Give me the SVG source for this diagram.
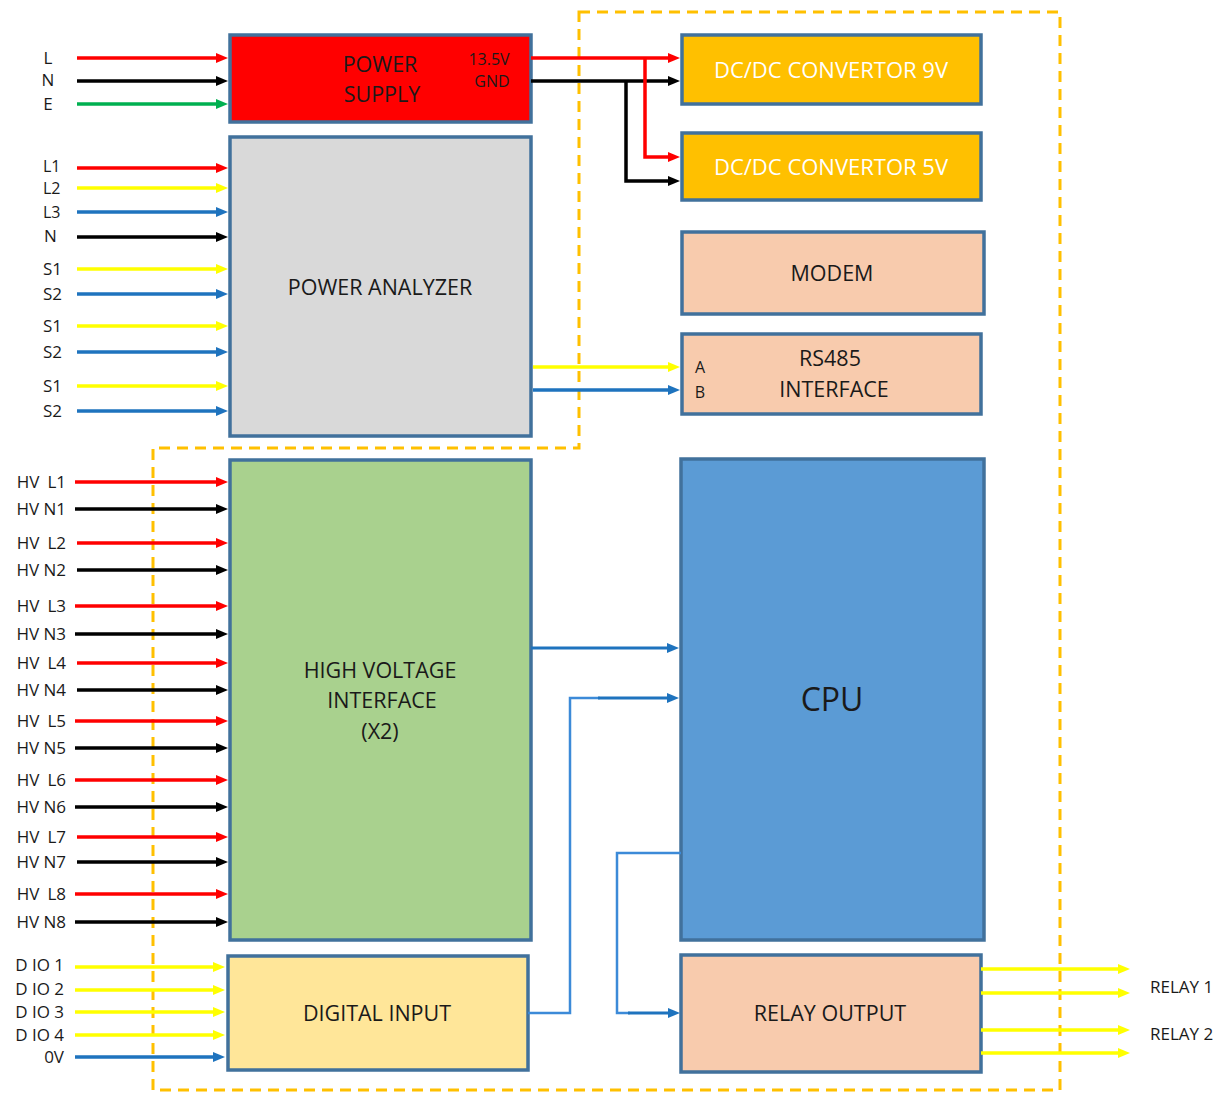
<svg xmlns="http://www.w3.org/2000/svg" width="1225" height="1094" viewBox="0 0 1225 1094">
<style>
.box{stroke:#41719C;stroke-width:3.5}
text{font-family:"Open Sans","Liberation Sans",sans-serif;fill:#1a1a1a}
.lbl{font-size:17px}
.sm{font-size:16px}
.t{font-size:21.5px;text-anchor:middle}
.w{fill:#ffffff;font-size:22px}
.w2{stroke-width:3.5;fill:none}
.r{stroke:#FF0000}.k{stroke:#000000}.g{stroke:#00B050}.y{stroke:#FFFF00}.b{stroke:#1E73BE}
.lb{stroke:#3C8AD8;stroke-width:2.5;fill:none}
</style>
<defs>
<marker id="mr" viewBox="0 0 12 10" refX="2" refY="5" markerWidth="12" markerHeight="10" markerUnits="userSpaceOnUse" orient="auto"><path d="M0,0L12,5L0,10z" fill="#FF0000"/></marker>
<marker id="mk" viewBox="0 0 12 10" refX="2" refY="5" markerWidth="12" markerHeight="10" markerUnits="userSpaceOnUse" orient="auto"><path d="M0,0L12,5L0,10z" fill="#000000"/></marker>
<marker id="mg" viewBox="0 0 12 10" refX="2" refY="5" markerWidth="12" markerHeight="10" markerUnits="userSpaceOnUse" orient="auto"><path d="M0,0L12,5L0,10z" fill="#00B050"/></marker>
<marker id="my" viewBox="0 0 12 10" refX="2" refY="5" markerWidth="12" markerHeight="10" markerUnits="userSpaceOnUse" orient="auto"><path d="M0,0L12,5L0,10z" fill="#FFFF00"/></marker>
<marker id="mb" viewBox="0 0 12 10" refX="2" refY="5" markerWidth="12" markerHeight="10" markerUnits="userSpaceOnUse" orient="auto"><path d="M0,0L12,5L0,10z" fill="#1E73BE"/></marker>
</defs>
<rect width="1225" height="1094" fill="#ffffff"/>

<path id="boundary" d="M579,12H1060V1090H153V448H579Z" fill="none" stroke="#FFC000" stroke-width="3" stroke-dasharray="11,7"/>

<g id="power-supply">
<rect class="box" x="230" y="35" width="301" height="87" fill="#FF0000"/>
<text class="t" x="380" y="72" font-size="22">POWER</text>
<text class="t" x="382" y="102" font-size="22">SUPPLY</text>
<text class="sm" x="489" y="65" text-anchor="middle">13.5V</text>
<text class="sm" x="492" y="87" text-anchor="middle">GND</text>
</g>
<g id="power-analyzer">
<rect class="box" x="230" y="137" width="301" height="299" fill="#D9D9D9"/>
<text class="t" x="380" y="295">POWER ANALYZER</text>
</g>
<g id="hv-interface">
<rect class="box" x="230" y="460" width="301" height="480" fill="#A9D18E"/>
<text class="t" x="380" y="678">HIGH VOLTAGE</text>
<text class="t" x="382" y="708">INTERFACE</text>
<text class="t" x="380" y="739">(X2)</text>
</g>
<g id="digital-input">
<rect class="box" x="228" y="956" width="300" height="114" fill="#FFE699"/>
<text class="t" x="377" y="1021">DIGITAL INPUT</text>
</g>
<g id="dcdc9">
<rect class="box" x="682" y="35" width="299" height="69" fill="#FFC000"/>
<text class="t w" x="831" y="78">DC/DC CONVERTOR 9V</text>
</g>
<g id="dcdc5">
<rect class="box" x="682" y="133" width="299" height="67" fill="#FFC000"/>
<text class="t w" x="831" y="175">DC/DC CONVERTOR 5V</text>
</g>
<g id="modem">
<rect class="box" x="682" y="232" width="302" height="82" fill="#F8CBAD"/>
<text class="t" x="832" y="281">MODEM</text>
</g>
<g id="rs485">
<rect class="box" x="682" y="334" width="299" height="80" fill="#F8CBAD"/>
<text class="t" x="830" y="366">RS485</text>
<text class="t" x="834" y="397">INTERFACE</text>
<text class="sm" x="700" y="373" text-anchor="middle">A</text>
<text class="sm" x="700" y="398" text-anchor="middle">B</text>
</g>
<g id="cpu">
<rect class="box" x="681" y="459" width="303" height="481" fill="#5B9BD5"/>
<text x="832" y="711" font-size="32" text-anchor="middle">CPU</text>
</g>
<g id="relay-output">
<rect class="box" x="681" y="955" width="300" height="117" fill="#F8CBAD"/>
<text class="t" x="830" y="1021">RELAY OUTPUT</text>
</g>

<g id="labels" class="lbl">
<text x="48" y="64" text-anchor="middle">L</text>
<text x="48" y="86" text-anchor="middle">N</text>
<text x="48" y="110" text-anchor="middle">E</text>
<text x="43" y="172" font-size="16">L1</text>
<text x="43" y="194" font-size="16">L2</text>
<text x="43" y="218" font-size="16">L3</text>
<text x="44" y="242">N</text>
<text x="43" y="275">S1</text>
<text x="43" y="300">S2</text>
<text x="43" y="332">S1</text>
<text x="43" y="358">S2</text>
<text x="43" y="392">S1</text>
<text x="43" y="417">S2</text>
<g text-anchor="end">
<text x="66" y="488">HV<tspan dx="8">L1</tspan></text>
<text x="66" y="515">HV N1</text>
<text x="66" y="549">HV<tspan dx="8">L2</tspan></text>
<text x="66" y="576">HV N2</text>
<text x="66" y="612">HV<tspan dx="8">L3</tspan></text>
<text x="66" y="640">HV N3</text>
<text x="66" y="669">HV<tspan dx="8">L4</tspan></text>
<text x="66" y="696">HV N4</text>
<text x="66" y="727">HV<tspan dx="8">L5</tspan></text>
<text x="66" y="754">HV N5</text>
<text x="66" y="786">HV<tspan dx="8">L6</tspan></text>
<text x="66" y="813">HV N6</text>
<text x="66" y="843">HV<tspan dx="8">L7</tspan></text>
<text x="66" y="868">HV N7</text>
<text x="66" y="900">HV<tspan dx="8">L8</tspan></text>
<text x="66" y="928">HV N8</text>
<text x="64" y="971">D IO 1</text>
<text x="64" y="995">D IO 2</text>
<text x="64" y="1018">D IO 3</text>
<text x="64" y="1041">D IO 4</text>
<text x="64" y="1063">0V</text>
</g>
<text x="1150" y="993">RELAY 1</text>
<text x="1150" y="1040">RELAY 2</text>
</g>

<g id="connectors" class="w2">
<path class="r" d="M77,58H218" marker-end="url(#mr)"/>
<path class="k" d="M77,81H218" marker-end="url(#mk)"/>
<path class="g" d="M77,104H218" marker-end="url(#mg)"/>
<path class="r" d="M77,168H218" marker-end="url(#mr)"/>
<path class="y" d="M77,188H218" marker-end="url(#my)"/>
<path class="b" d="M77,212H218" marker-end="url(#mb)"/>
<path class="k" d="M77,237H218" marker-end="url(#mk)"/>
<path class="y" d="M77,269H218" marker-end="url(#my)"/>
<path class="b" d="M77,294H218" marker-end="url(#mb)"/>
<path class="y" d="M77,326H218" marker-end="url(#my)"/>
<path class="b" d="M77,352H218" marker-end="url(#mb)"/>
<path class="y" d="M77,386H218" marker-end="url(#my)"/>
<path class="b" d="M77,411H218" marker-end="url(#mb)"/>

<path class="r" d="M75,482H218" marker-end="url(#mr)"/>
<path class="k" d="M75,509H218" marker-end="url(#mk)"/>
<path class="r" d="M77,543H218" marker-end="url(#mr)"/>
<path class="k" d="M77,570H218" marker-end="url(#mk)"/>
<path class="r" d="M75,606H218" marker-end="url(#mr)"/>
<path class="k" d="M75,634H218" marker-end="url(#mk)"/>
<path class="r" d="M77,663H218" marker-end="url(#mr)"/>
<path class="k" d="M77,690H218" marker-end="url(#mk)"/>
<path class="r" d="M75,721H218" marker-end="url(#mr)"/>
<path class="k" d="M75,748H218" marker-end="url(#mk)"/>
<path class="r" d="M75,780H218" marker-end="url(#mr)"/>
<path class="k" d="M75,807H218" marker-end="url(#mk)"/>
<path class="r" d="M77,837H218" marker-end="url(#mr)"/>
<path class="k" d="M77,862H218" marker-end="url(#mk)"/>
<path class="r" d="M75,894H218" marker-end="url(#mr)"/>
<path class="k" d="M75,922H218" marker-end="url(#mk)"/>

<path class="y" d="M75,967H215" marker-end="url(#my)"/>
<path class="y" d="M75,990H215" marker-end="url(#my)"/>
<path class="y" d="M75,1012H215" marker-end="url(#my)"/>
<path class="y" d="M75,1035H215" marker-end="url(#my)"/>
<path class="b" d="M75,1057H215" marker-end="url(#mb)"/>

<path class="r" d="M531,58H670" marker-end="url(#mr)"/>
<path class="k" d="M531,81H670" marker-end="url(#mk)"/>
<path class="r" d="M645,58V157H670" marker-end="url(#mr)"/>
<path class="k" d="M626,81V181H670" marker-end="url(#mk)"/>

<path class="y" d="M533,367H670" marker-end="url(#my)"/>
<path class="b" d="M533,390H670" marker-end="url(#mb)"/>

<path class="b" d="M531,648H669" marker-end="url(#mb)" stroke-width="3"/>
<path class="lb" d="M528,1013H570V698H600"/>
<path class="b" d="M598,698H669" marker-end="url(#mb)" stroke-width="3"/>
<path class="lb" d="M681,853H617V1013H630"/>
<path class="b" d="M628,1013H670" marker-end="url(#mb)" stroke-width="3"/>

<path class="y" d="M981,969H1120" marker-end="url(#my)"/>
<path class="y" d="M981,993H1120" marker-end="url(#my)"/>
<path class="y" d="M981,1030H1120" marker-end="url(#my)"/>
<path class="y" d="M981,1053H1120" marker-end="url(#my)"/>
</g>
</svg>
